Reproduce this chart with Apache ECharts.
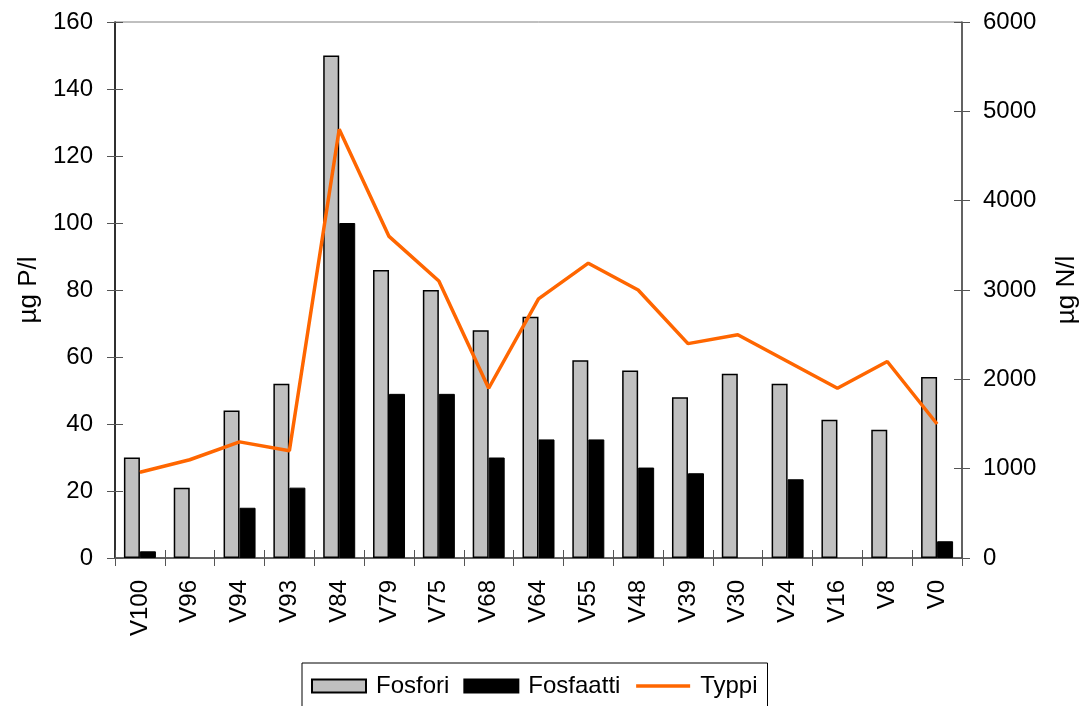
<!DOCTYPE html>
<html>
<head>
<meta charset="utf-8">
<script src="https://cdn.jsdelivr.net/npm/echarts@6/dist/echarts.min.js"></script>
<style>
  html, body { margin: 0; padding: 0; background: #fff; }
  #chart { width: 1089px; height: 706px; }
</style>
</head>
<body>
<div id="chart"></div>
<script>
// Sampling stations along the river
const stations = ['V100', 'V96', 'V94', 'V93', 'V84', 'V79', 'V75', 'V68', 'V64', 'V55', 'V48', 'V39', 'V30', 'V24', 'V16', 'V8', 'V0'];
// Total phosphorus, µg P/l
const fosfori = [30, 21, 44, 52, 150, 86, 80, 68, 72, 59, 56, 48, 55, 52, 41.3, 38.3, 54];
// Phosphate, µg P/l (null where not measured)
const fosfaatti = [2, null, 15, 21, 100, 49, 49, 30, 35.4, 35.4, 27, 25.3, null, 23.5, null, null, 5];
// Nitrogen, µg N/l
const typpi = [960, 1100, 1300, 1200, 4800, 3600, 3100, 1900, 2900, 3300, 3000, 2400, 2500, 2200, 1900, 2200, 1500];

const FONT = 'Liberation Sans, Arial, sans-serif';
const LABEL_SIZE = 24;
const tickStyle = { color: '#555', width: 1 };
const plain = v => String(v);

const chart = echarts.init(document.getElementById('chart'), null, { renderer: 'canvas' });
chart.setOption({
  animation: false,
  backgroundColor: '#fff',
  textStyle: { fontFamily: FONT },
  grid: {
    left: 115, right: 127, top: 22, bottom: 148,
    containLabel: false, outerBoundsMode: 'none',
    show: true, borderColor: '#808080', borderWidth: 1
  },
  legend: {
    left: 302, top: 663,
    data: [
      { name: 'Fosfori', icon: 'rect' },
      { name: 'Fosfaatti', icon: 'rect' },
      { name: 'Typpi', itemStyle: { color: 'rgba(0,0,0,0)', borderWidth: 0 }, lineStyle: { width: 3.5 } }
    ],
    itemWidth: 54, itemHeight: 13, itemGap: 14,
    padding: [11, 10, 30, 9],
    borderColor: '#000', borderWidth: 1,
    textStyle: { fontSize: LABEL_SIZE, color: '#000', fontFamily: FONT, padding: [0, 0, 0, 5] }
  },
  xAxis: [
    {
      type: 'category', data: stations,
      axisLine: { lineStyle: { color: '#444', width: 1.5 } },
      axisTick: { show: true, length: 8, lineStyle: tickStyle },
      axisLabel: { rotate: 90, fontSize: LABEL_SIZE, color: '#000', margin: 22, fontFamily: FONT }
    },
    {
      // inner half of the crossing category ticks
      type: 'category', data: stations, position: 'bottom',
      axisLine: { show: false },
      axisTick: { show: true, inside: true, length: 8, lineStyle: tickStyle },
      axisLabel: { show: false }
    }
  ],
  yAxis: [
    {
      type: 'value', min: 0, max: 160, interval: 20, position: 'left',
      name: 'µg P/l', nameLocation: 'middle', nameGap: 70,
      nameTextStyle: { fontSize: 26, color: '#000', fontFamily: FONT },
      axisLine: { show: true, lineStyle: { color: '#000', width: 1.5 } },
      axisTick: { show: true, length: 8, lineStyle: tickStyle },
      axisLabel: { fontSize: LABEL_SIZE, color: '#000', margin: 22, fontFamily: FONT, formatter: plain },
      splitLine: { show: false }
    },
    {
      type: 'value', min: 0, max: 6000, interval: 1000, position: 'right',
      name: 'µg N/l', nameLocation: 'middle', nameGap: 92, nameRotate: 90,
      nameTextStyle: { fontSize: 26, color: '#000', fontFamily: FONT },
      axisLine: { show: true, lineStyle: { color: '#444', width: 1.5 } },
      axisTick: { show: true, length: 8, lineStyle: tickStyle },
      axisLabel: { fontSize: LABEL_SIZE, color: '#000', margin: 21, fontFamily: FONT, formatter: plain },
      splitLine: { show: false }
    },
    {
      // inner half of the crossing ticks, left side
      type: 'value', min: 0, max: 160, interval: 20, position: 'left',
      axisLine: { show: false },
      axisTick: { show: true, inside: true, length: 8, lineStyle: tickStyle },
      axisLabel: { show: false }, splitLine: { show: false }
    },
    {
      // inner half of the crossing ticks, right side
      type: 'value', min: 0, max: 6000, interval: 1000, position: 'right',
      axisLine: { show: false },
      axisTick: { show: true, inside: true, length: 8, lineStyle: tickStyle },
      axisLabel: { show: false }, splitLine: { show: false }
    }
  ],
  series: [
    {
      name: 'Fosfori', type: 'bar', data: fosfori,
      xAxisIndex: 0, yAxisIndex: 0,
      barWidth: 16, barGap: '0%',
      itemStyle: { color: '#c0c0c0', borderColor: '#000', borderWidth: 1.5 }
    },
    {
      name: 'Fosfaatti', type: 'bar', data: fosfaatti,
      xAxisIndex: 0, yAxisIndex: 0,
      barWidth: 16, barGap: '0%',
      itemStyle: { color: '#000', borderColor: '#000', borderWidth: 1 }
    },
    {
      name: 'Typpi', type: 'line', data: typpi,
      xAxisIndex: 0, yAxisIndex: 1,
      symbol: 'none',
      lineStyle: { color: '#ff6600', width: 3.5 },
      itemStyle: { color: '#ff6600' },
      z: 5
    }
  ]
});
</script>
</body>
</html>
